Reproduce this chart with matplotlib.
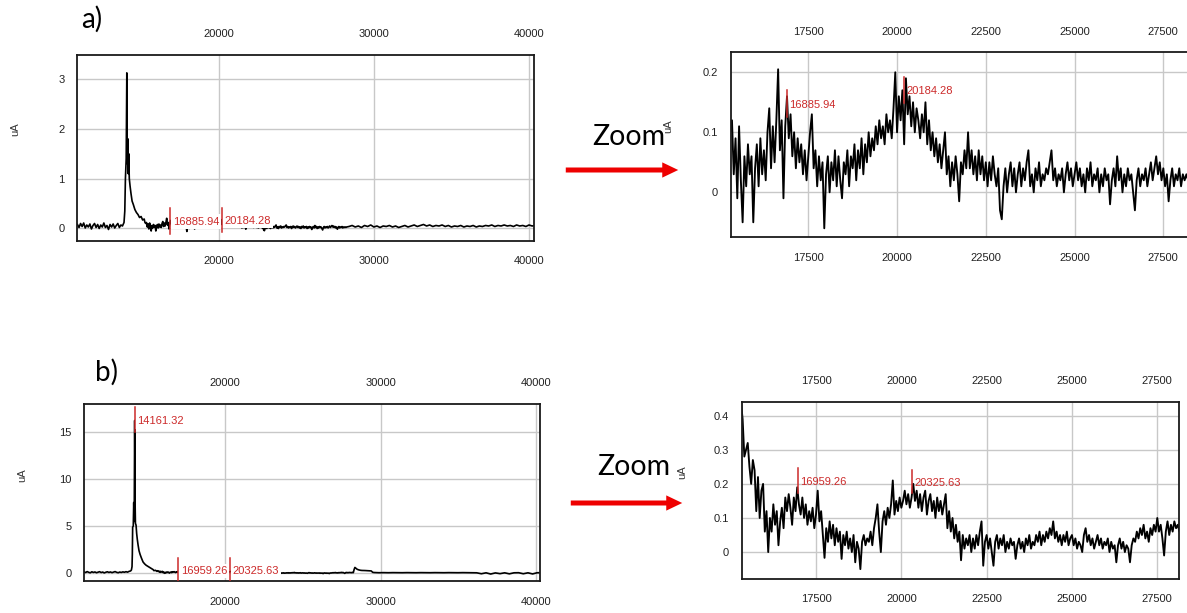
import numpy as np
import matplotlib
matplotlib.use('Agg')
import matplotlib.pyplot as plt
from matplotlib.patches import FancyArrowPatch

W, H = 1187, 613

# ---- spectrum a) ----
a_pre = [0.08, 0.02, 0.10, 0.04, 0.11, 0.01, 0.07, 0.03, 0.09, -0.01,
         0.06, 0.10, 0.02, 0.08, 0.00, 0.07, 0.03, 0.11, 0.02, 0.06,
         -0.02, 0.08, 0.03, 0.09, 0.01, 0.06, 0.10, 0.02, 0.07, 0.05, 0.12]   # 10900..13900 step 100
a_peak_x = [13950, 13990, 14040, 14080, 14110, 14140, 14170, 14200, 14240, 14290,
            14350, 14420, 14500, 14600, 14700, 14800, 14900, 15000, 15100, 15200, 15250]
a_peak_y = [0.35, 1.0, 1.4, 3.12, 1.3, 1.8, 1.1, 1.5, 1.0, 0.85,
            0.7, 0.55, 0.48, 0.38, 0.32, 0.28, 0.22, 0.24, 0.17, 0.19, 0.12]
a_zoom = [0.10, 0.12, 0.03, 0.09, -0.01, 0.11, 0.02, -0.05, 0.06, 0.01,
          0.08, 0.03, 0.06, -0.05, 0.04, 0.08, 0.01, 0.09, 0.03, 0.07,
          0.02, 0.10, 0.14, 0.04, 0.11, 0.05, 0.12, 0.205, 0.07, 0.12,
          -0.01, 0.11, 0.16, 0.09, 0.13, 0.06, 0.10, 0.04, 0.09, 0.05,
          0.08, 0.03, 0.07, 0.02, 0.06, 0.10, 0.13, 0.04, 0.07, 0.01,
          0.06, 0.02, 0.05, -0.06, 0.03, 0.06, 0.00, 0.05, 0.02, 0.07,
          0.01, 0.06, 0.02, -0.01, 0.05, 0.03, 0.07, 0.01, 0.06, 0.04,
          0.08, 0.02, 0.07, 0.04, 0.09, 0.03, 0.08, 0.05, 0.10, 0.06,
          0.09, 0.07, 0.11, 0.08, 0.12, 0.09, 0.11, 0.08, 0.13, 0.10,
          0.12, 0.09, 0.14, 0.20, 0.10, 0.16, 0.12, 0.17, 0.08, 0.19,
          0.13, 0.16, 0.11, 0.15, 0.10, 0.14, 0.12, 0.09, 0.13, 0.10,
          0.15, 0.08, 0.12, 0.07, 0.10, 0.06, 0.09, 0.05, 0.08, 0.04,
          0.07, 0.10, 0.03, 0.06, 0.01, 0.05, 0.02, 0.06, 0.03, -0.015,
          0.05, 0.03, 0.07, 0.04, 0.10, 0.04, 0.07, 0.03, 0.06, 0.02,
          0.07, 0.03, 0.06, 0.02, 0.05, 0.01, 0.05, 0.02, 0.06, 0.03,
          0.01, 0.04, -0.03, -0.045, 0.01, 0.04, 0.00, 0.03, 0.05, 0.01,
          0.04, 0.00, 0.03, 0.05, 0.01, 0.04, 0.02, 0.05, 0.07, 0.01,
          0.03, 0.00, 0.04, 0.02, 0.05, 0.01, 0.03, 0.02, 0.04, 0.03,
          0.05, 0.07, 0.02, 0.04, 0.01, 0.03, 0.02, 0.04, 0.00, 0.03,
          0.05, 0.02, 0.04, 0.01, 0.03, 0.05, 0.02, 0.04, 0.01, 0.03,
          0.00, 0.04, 0.02, 0.05, 0.01, 0.03, 0.02, 0.04, 0.00, 0.03,
          0.01, 0.04, 0.02, 0.03, -0.02, 0.02, 0.04, 0.01, 0.06, 0.02,
          0.04, 0.00, 0.03, 0.01, 0.04, 0.02, 0.03, 0.00, -0.03, 0.02,
          0.04, 0.01, 0.03, 0.02, 0.04, 0.01, 0.03, 0.05, 0.02, 0.04,
          0.06, 0.03, 0.05, 0.02, 0.04, 0.01, 0.03, -0.015, 0.02, 0.04,
          0.01, 0.03, 0.02, 0.04, 0.01, 0.03, 0.02, 0.03, 0.02, 0.03]   # 15300..28250 step 50
a_post = [0.04, 0.06, 0.03, 0.05, 0.02, 0.06, 0.04, 0.07, 0.03, 0.05,
          0.02, 0.05, 0.04, 0.06, 0.03, 0.05, 0.02, 0.04, 0.06, 0.03,
          0.05, 0.07, 0.04, 0.06, 0.08, 0.05, 0.07, 0.04, 0.06, 0.05,
          0.07, 0.04, 0.06, 0.03, 0.05, 0.04, 0.06, 0.03, 0.05, 0.04,
          0.06, 0.03, 0.05, 0.04, 0.06, 0.05, 0.07, 0.04, 0.06, 0.05,
          0.07, 0.05, 0.06, 0.04, 0.07, 0.05, 0.06, 0.04, 0.07, 0.05, 0.06]   # 28400..40400 step 200
a_marks = [16885.94, 20184.28]

# ---- spectrum b) ----
b_pre = [0.15, 0.08, 0.18, 0.10, 0.05, 0.16, 0.09, 0.14, 0.06, 0.12,
         0.17, 0.08, 0.13, 0.04, 0.11, 0.16, 0.09, 0.14, 0.07, 0.12,
         0.18, 0.10, 0.06, 0.13, 0.09, 0.15, 0.11, 0.17, 0.12, 0.20, 0.25]
b_peak_x = [13950, 13990, 14010, 14030, 14070, 14100, 14130, 14161, 14185, 14210,
            14250, 14290, 14330, 14380, 14440, 14510, 14600, 14700, 14800, 14900,
            15000, 15100, 15200, 15250]
b_peak_y = [0.35, 0.7, 2.0, 4.9, 5.0, 7.5, 5.5, 16.2, 7.8, 5.3,
            5.1, 4.2, 3.6, 3.0, 2.4, 2.0, 1.6, 1.2, 1.0, 0.85,
            0.75, 0.65, 0.55, 0.5]
b_zoom = [0.44, 0.39, 0.28, 0.30, 0.32, 0.25, 0.20, 0.27, 0.24, 0.12,
          0.22, 0.10, 0.18, 0.20, 0.06, 0.12, 0.00, 0.10, 0.06, 0.14,
          0.08, 0.12, 0.02, 0.09, 0.13, 0.07, 0.16, 0.12, 0.17, 0.13,
          0.08, 0.16, 0.12, 0.19, 0.14, 0.11, 0.16, 0.10, 0.14, 0.08,
          0.12, 0.09, 0.13, 0.07, 0.11, 0.18, 0.09, 0.12, 0.05, -0.017,
          0.07, 0.03, 0.09, 0.04, 0.08, 0.02, 0.07, 0.03, 0.06, -0.02,
          0.05, 0.02, 0.06, 0.01, 0.04, 0.00, 0.05, -0.03, 0.03, 0.01,
          -0.05, 0.03, 0.05, 0.02, 0.04, 0.03, 0.06, 0.02, 0.07, 0.10,
          0.14, 0.06, 0.00, 0.09, 0.12, 0.08, 0.13, 0.10, 0.14, 0.21,
          0.11, 0.15, 0.12, 0.16, 0.13, 0.15, 0.18, 0.14, 0.17, 0.13,
          0.16, 0.20, 0.15, 0.18, 0.13, 0.17, 0.12, 0.16, 0.18, 0.11,
          0.15, 0.17, 0.12, 0.15, 0.10, 0.16, 0.12, 0.15, 0.11, 0.14,
          0.17, 0.07, 0.12, 0.06, 0.10, 0.04, 0.08, 0.03, 0.06, -0.024,
          0.05, 0.01, 0.04, 0.02, 0.05, 0.00, 0.04, 0.01, 0.05, 0.02,
          0.06, 0.09, -0.04, 0.03, 0.05, 0.01, 0.04, 0.00, -0.04, 0.03,
          0.05, 0.01, 0.04, 0.02, 0.05, 0.00, 0.03, 0.01, 0.04, 0.02,
          0.03, -0.02, 0.02, 0.04, 0.01, 0.03, 0.00, 0.04, 0.02, 0.05,
          0.01, 0.03, 0.02, 0.05, 0.03, 0.06, 0.02, 0.05, 0.03, 0.06,
          0.04, 0.07, 0.05, 0.09, 0.04, 0.06, 0.03, 0.05, 0.02, 0.05,
          0.03, 0.06, 0.02, 0.04, 0.05, 0.02, 0.04, 0.01, 0.03, 0.02,
          0.00, 0.05, 0.07, 0.03, 0.05, 0.02, 0.04, 0.01, 0.03, 0.05,
          0.02, 0.04, 0.01, 0.03, 0.02, 0.04, 0.00, 0.03, 0.01, 0.02,
          -0.03, 0.02, 0.04, 0.01, 0.03, 0.00, 0.02, 0.01, -0.03, 0.02,
          0.04, 0.03, 0.06, 0.04, 0.07, 0.05, 0.08, 0.04, 0.06, 0.03,
          0.07, 0.05, 0.08, 0.06, 0.10, 0.06, 0.08, 0.04, -0.01, 0.06,
          0.09, 0.05, 0.08, 0.06, 0.09, 0.07, 0.08, 0.06, 0.09, 0.07]
b_bump_x = [28300, 28350, 28400, 28450, 28500, 28600, 28700, 28800, 28900, 29000,
            29100, 29200, 29300, 29400, 29500]
b_bump_y = [0.40, 0.62, 0.55, 0.48, 0.42, 0.36, 0.32, 0.30, 0.30, 0.29,
            0.28, 0.28, 0.26, 0.25, 0.10]
b_tail = [0.08, 0.06, 0.07, 0.06, 0.07, 0.06, 0.06, 0.07, 0.06, 0.06,
          0.07, 0.06, 0.06, 0.07, 0.06, 0.06, 0.07, 0.06, 0.06, 0.07,
          0.06, 0.06, 0.05, -0.05, 0.05, -0.08, 0.04, -0.04, 0.05, -0.06,
          0.05, 0.06, -0.05, 0.05, -0.07, 0.06, 0.05]   # 29600..40400 step 300
b_marks = [14161.32, 16959.26, 20325.63]

RED = '#cc2a2a'
TXT = '#222222'
TICKFONT = 'Liberation Sans'


def spectrum(pre, peak_x, peak_y, zoom, tail_parts):
    x = list(10900 + 100 * np.arange(len(pre))) + peak_x + list(15300 + 50 * np.arange(len(zoom)))
    y = list(pre) + peak_y + list(zoom)
    for tx, ty in tail_parts:
        x += list(tx)
        y += list(ty)
    return np.array(x), np.array(y)


def panel(rect_px, x, y, xlim, ylim, xticks, yticks, ylabels, marks, boxed, lw):
    l, t, r, b = rect_px
    ax = fig.add_axes([l / W, 1 - b / H, (r - l) / W, (b - t) / H])
    ax.plot(x, y, color='black', lw=lw, zorder=2)
    ax.set_xlim(xlim)
    ax.set_ylim(ylim)
    ax.set_xticks(xticks)
    ax.set_xticklabels([str(v) for v in xticks], fontfamily=TICKFONT)
    ax.set_yticks(yticks)
    ax.set_yticklabels(ylabels, fontfamily=TICKFONT)
    ax.grid(True, color='#c8c8c8', lw=1.0)
    ax.set_axisbelow(True)
    ax.tick_params(axis='x', length=0, labeltop=True, labelsize=8, labelcolor=TXT, pad=11)
    ax.tick_params(axis='y', length=0, labelsize=8, labelcolor=TXT, pad=9)
    for sp in ax.spines.values():
        sp.set_linewidth(1.3)
        sp.set_color('#1a1a1a')
    ax.set_ylabel('uA', fontsize=8, color='#333333', fontfamily=TICKFONT)
    ax.yaxis.set_label_coords(-0.125, 0.6)
    for mx, lo, hi, ty in marks:
        ax.plot([mx, mx], [lo, hi], color=RED, lw=1.1, zorder=4)
        kw = dict(bbox=dict(fc='white', ec='none', pad=1.5)) if boxed else {}
        ax.annotate(f'{mx:.2f}', (mx, ty), xytext=(1.8, 0), textcoords='offset points',
                    va='center', ha='left', fontsize=8, color=RED, fontfamily=TICKFONT,
                    zorder=3, **kw)
    return ax


fig = plt.figure(figsize=(W / 100, H / 100), dpi=100)

ax_x, ax_y = spectrum(a_pre, a_peak_x, a_peak_y, a_zoom,
                      [(28400 + 200 * np.arange(len(a_post)), a_post)])
bx_x, bx_y = spectrum(b_pre, b_peak_x, b_peak_y, b_zoom,
                      [(b_bump_x, b_bump_y), (29600 + 300 * np.arange(len(b_tail)), b_tail)])

big_ticks = [20000, 30000, 40000]
zoom_ticks = [17500, 20000, 22500, 25000, 27500]

# a) overview and zoom
panel((77.3, 54.7, 534, 240.7), ax_x, ax_y, (10889, 40322), (-0.245, 3.485),
      big_ticks, [0, 1, 2, 3], ['0', '1', '2', '3'],
      [(a_marks[0], -0.11, 0.42, 0.14), (a_marks[1], -0.08, 0.41, 0.15)], True, 1.2)
panel((730.7, 52.3, 1190, 237.3), ax_x, ax_y, (15314, 28252), (-0.075, 0.2333),
      zoom_ticks, [0, 0.1, 0.2], ['0', '0.1', '0.2'],
      [(a_marks[0], 0.126, 0.171, 0.146), (a_marks[1], 0.148, 0.192, 0.169)], False, 1.35)

# b) overview and zoom
panel((84.3, 403.7, 540, 581.3), bx_x, bx_y, (10915, 40277), (-0.85, 17.98),
      big_ticks, [0, 5, 10, 15], ['0', '5', '10', '15'],
      [(b_marks[0], 15.0, 17.6, 16.1), (b_marks[1], -0.9, 1.6, 0.25), (b_marks[2], -0.9, 1.6, 0.25)],
      True, 1.2)
panel((741.7, 401.7, 1179.3, 579), bx_x, bx_y, (15323, 28145), (-0.079, 0.441),
      zoom_ticks, [0, 0.1, 0.2, 0.3, 0.4], ['0', '0.1', '0.2', '0.3', '0.4'],
      [(b_marks[1], 0.172, 0.247, 0.206), (b_marks[2], 0.172, 0.242, 0.203)], False, 1.35)

# labels, zoom text and arrows
fig.text(81 / W, 1 - 19 / H, 'a)', fontsize=20, fontfamily='Lato', va='center', ha='left')
fig.text(95 / W, 1 - 372 / H, 'b)', fontsize=20, fontfamily='Lato', va='center', ha='left')
for zx, zy, x0, x1, ay in [(592, 137, 563, 681, 170), (597, 467, 568, 685, 503)]:
    fig.text(zx / W, 1 - zy / H, 'Zoom', fontsize=20.5, fontfamily='Lato', va='center', ha='left')
    arr = FancyArrowPatch((x0 / W, 1 - ay / H), (x1 / W, 1 - ay / H), transform=fig.transFigure,
                          arrowstyle='simple,head_length=1.15,head_width=1.1,tail_width=0.36',
                          mutation_scale=10, color='#ee0000', lw=0)
    fig.add_artist(arr)

fig.savefig('out.png', dpi=100)
